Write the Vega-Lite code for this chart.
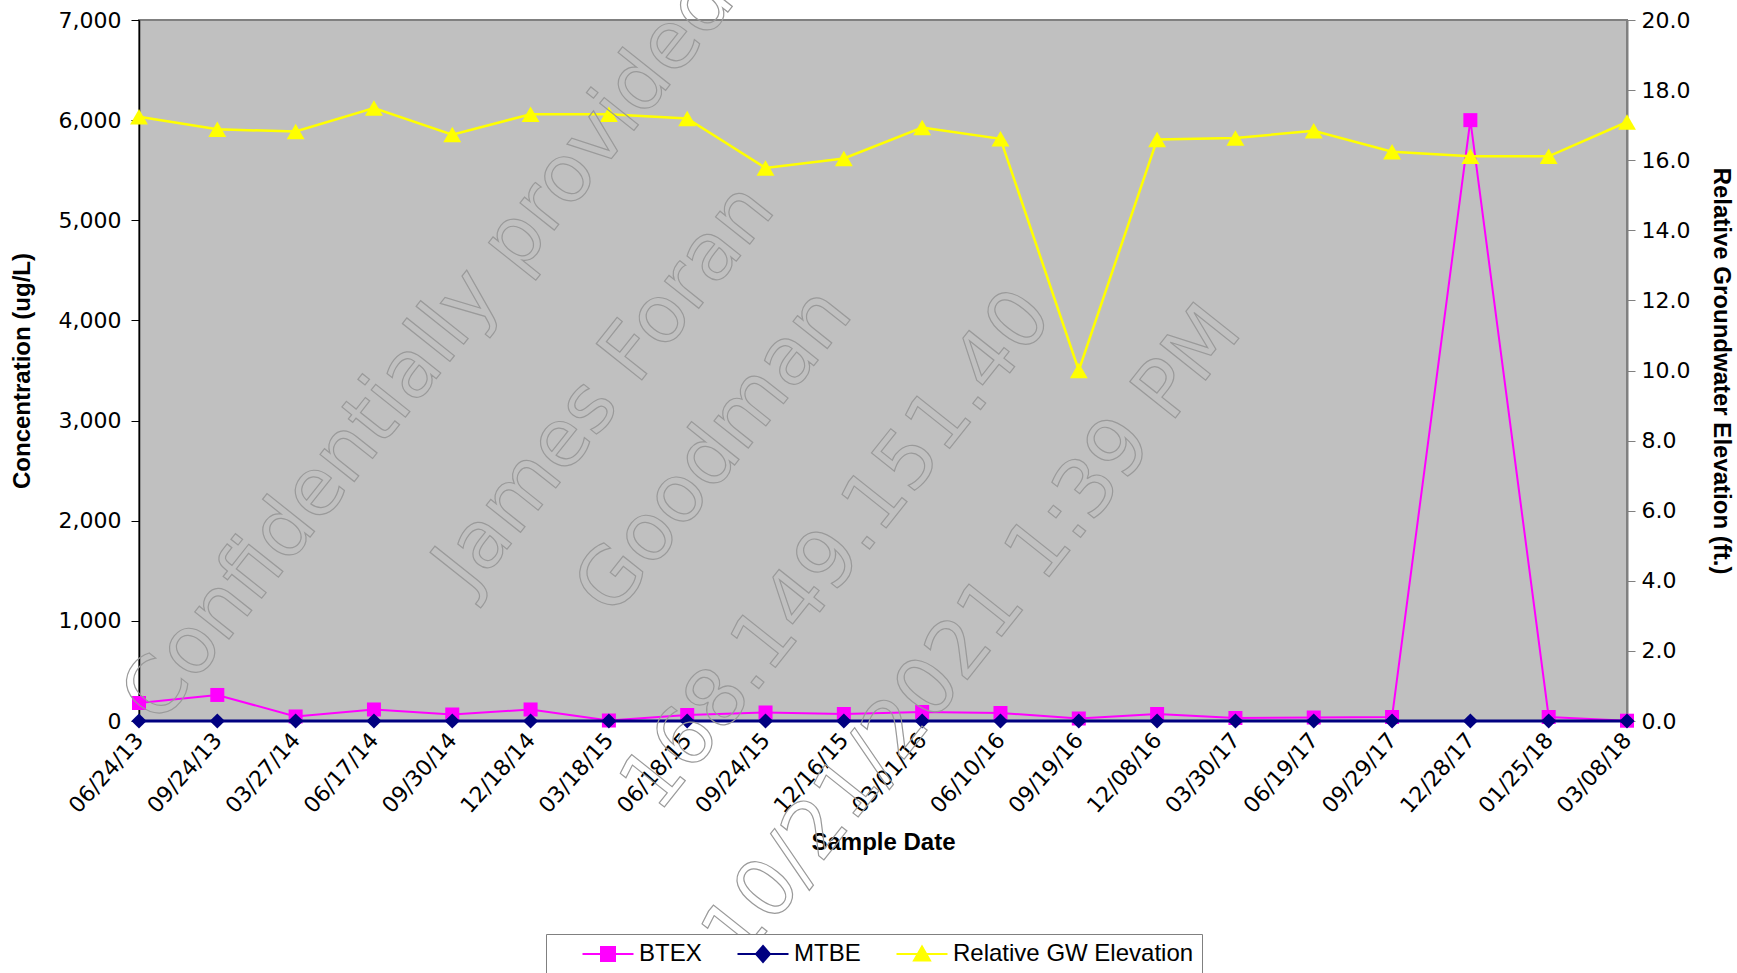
{
  "$schema": "https://vega.github.io/schema/vega-lite/v6.json",
  "autosize": {"type": "none"},
  "width": 1488,
  "height": 701,
  "padding": {"left": 139, "top": 20, "right": 110, "bottom": 252},
  "background": "#ffffff",
  "config": {
    "view": {"fill": "#C0C0C0", "stroke": "#808080", "strokeWidth": 2},
    "axis": {"labelFont": "DejaVu Sans", "labelFontSize": 22, "labelColor": "#000000", "titleFont": "Liberation Sans", "titleFontSize": 24, "titleFontWeight": "bold", "titleColor": "#000000", "grid": false}
  },
  "datasets": {
    "chem": [
      {"date": "06/24/13", "btex": 180, "mtbe": 0, "gw": 17.24},
      {"date": "09/24/13", "btex": 260, "mtbe": 0, "gw": 16.88},
      {"date": "03/27/14", "btex": 45, "mtbe": 0, "gw": 16.82},
      {"date": "06/17/14", "btex": 115, "mtbe": 0, "gw": 17.49},
      {"date": "09/30/14", "btex": 65, "mtbe": 0, "gw": 16.73},
      {"date": "12/18/14", "btex": 115, "mtbe": 0, "gw": 17.31},
      {"date": "03/18/15", "btex": 5, "mtbe": 0, "gw": 17.31},
      {"date": "06/18/15", "btex": 60, "mtbe": 0, "gw": 17.19},
      {"date": "09/24/15", "btex": 85, "mtbe": 0, "gw": 15.78},
      {"date": "12/16/15", "btex": 70, "mtbe": 0, "gw": 16.05},
      {"date": "03/01/16", "btex": 90, "mtbe": 0, "gw": 16.93},
      {"date": "06/10/16", "btex": 80, "mtbe": 0, "gw": 16.61},
      {"date": "09/19/16", "btex": 25, "mtbe": 0, "gw": 10.0},
      {"date": "12/08/16", "btex": 70, "mtbe": 0, "gw": 16.59},
      {"date": "03/30/17", "btex": 30, "mtbe": 0, "gw": 16.63},
      {"date": "06/19/17", "btex": 35, "mtbe": 0, "gw": 16.84},
      {"date": "09/29/17", "btex": 40, "mtbe": 0, "gw": 16.24},
      {"date": "12/28/17", "btex": 6000, "mtbe": 0, "gw": 16.11},
      {"date": "01/25/18", "btex": 40, "mtbe": 0, "gw": 16.11},
      {"date": "03/08/18", "btex": 3, "mtbe": 0, "gw": 17.09}
    ],
    "wm": [
      {"t": "James Foran", "wx": 5.95, "wy": 3330},
      {"t": "Goodman", "wx": 7.35, "wy": 2690},
      {"t": "168.149.151.40", "wx": 8.92, "wy": 1700},
      {"t": "10/21/2021 1:39 PM", "wx": 10.65, "wy": 870}
    ],
    "wm1": [
      {"t": "Confidentially provided to", "wx": 0.02, "wy": 92}
    ]
  },
  "layer": [
    {
      "data": {"name": "chem"},
      "encoding": {
        "x": {
          "field": "date", "type": "ordinal", "sort": null,
          "scale": {"type": "point", "padding": 0, "domain": ["06/24/13","09/24/13","03/27/14","06/17/14","09/30/14","12/18/14","03/18/15","06/18/15","09/24/15","12/16/15","03/01/16","06/10/16","09/19/16","12/08/16","03/30/17","06/19/17","09/29/17","12/28/17","01/25/18","03/08/18"]},
          "axis": {"title": "Sample Date", "labelAngle": -48, "labelAlign": "right", "labelBaseline": "middle", "labelPadding": 15, "ticks": false, "domain": false, "titlePadding": 14}
        }
      },
      "layer": [
        {
          "mark": {"type": "line", "strokeWidth": 2},
          "encoding": {
            "y": {"field": "btex", "type": "quantitative", "title": "Concentration (ug/L)",
              "scale": {"domain": [0, 7000], "nice": false},
              "axis": {"orient": "left", "values": [0,1000,2000,3000,4000,5000,6000,7000], "format": ",.0f", "tickSize": 8, "tickColor": "#000000", "domainColor": "#000000", "domainWidth": 1.5, "labelPadding": 10, "titlePadding": 24}},
            "color": {
              "datum": "BTEX",
              "scale": {"domain": ["BTEX", "MTBE", "Relative GW Elevation"], "range": ["#FF00FF", "#000080", "#FFFF00"]},
              "legend": {
                "orient": "none", "legendX": 407, "legendY": 914, "direction": "horizontal", "title": null,
                "fillColor": "#ffffff", "strokeColor": "#808080", "padding": 8, "symbolOffset": 42,
                "labelFont": "Liberation Sans", "labelFontSize": 24, "labelColor": "#000000", "labelOffset": 19, "labelLimit": 400,
                "columnPadding": 7, "symbolSize": 400, "symbolStrokeWidth": 2,
                "encode": {"symbols": {"update": {
                  "shape": {"signal": "datum.value === 'BTEX' ? 'M-2.55,0H2.55M-0.7,-0.7H0.7V0.7H-0.7Z' : (datum.value === 'MTBE' ? 'M-2.55,0H2.55M0,-0.8L0.7,0L0,0.8L-0.7,0Z' : 'M-2.55,0H2.55M0,-0.75L0.8,0.65L-0.8,0.65Z')"},
                  "fill": {"scale": "color", "field": "value"},
                  "stroke": {"scale": "color", "field": "value"},
                  "opacity": {"value": 1}
                }}}
              }
            }
          }
        },
        {
          "mark": {"type": "point", "shape": "square", "filled": true, "size": 196, "color": "#FF00FF", "opacity": 1},
          "encoding": {"y": {"field": "btex", "type": "quantitative", "title": "Concentration (ug/L)"}}
        },
        {
          "mark": {"type": "line", "strokeWidth": 3},
          "encoding": {
            "y": {"field": "mtbe", "type": "quantitative", "title": "Concentration (ug/L)"},
            "color": {"datum": "MTBE"}
          }
        },
        {
          "mark": {"type": "point", "shape": "diamond", "filled": true, "size": 230, "color": "#000080", "opacity": 1},
          "encoding": {"y": {"field": "mtbe", "type": "quantitative", "title": "Concentration (ug/L)"}}
        }
      ]
    },
    {
      "data": {"name": "chem"},
      "encoding": {
        "x": {
          "field": "date", "type": "ordinal", "sort": null,
          "scale": {"type": "point", "padding": 0, "domain": ["06/24/13","09/24/13","03/27/14","06/17/14","09/30/14","12/18/14","03/18/15","06/18/15","09/24/15","12/16/15","03/01/16","06/10/16","09/19/16","12/08/16","03/30/17","06/19/17","09/29/17","12/28/17","01/25/18","03/08/18"]},
          "axis": null
        },
        "y": {"field": "gw", "type": "quantitative", "title": "Relative Groundwater Elevation (ft.)",
          "scale": {"domain": [0, 20], "nice": false},
          "axis": {"orient": "right", "values": [0,2,4,6,8,10,12,14,16,18,20], "format": ".1f", "tickSize": 8, "tickColor": "#808080", "domainColor": "#808080", "domainWidth": 2, "labelPadding": 6, "titlePadding": 19}}
      },
      "layer": [
        {
          "mark": {"type": "line", "strokeWidth": 2.5},
          "encoding": {"color": {"datum": "Relative GW Elevation"}}
        },
        {
          "mark": {"type": "point", "shape": "triangle-up", "filled": true, "size": 320, "color": "#FFFF00", "opacity": 1}
        }
      ]
    },
    {
      "layer": [
        {
          "data": {"name": "wm"},
          "mark": {"type": "text", "font": "DejaVu Sans", "fontSize": 80, "angle": 308.5, "align": "center", "baseline": "middle", "fill": "transparent", "stroke": "#9a9a9a", "strokeWidth": 1.2},
          "encoding": {
            "x": {"field": "wx", "type": "quantitative", "scale": {"domain": [0, 19], "nice": false, "zero": false}, "axis": null},
            "y": {"field": "wy", "type": "quantitative", "scale": {"domain": [0, 7000], "nice": false, "zero": false}, "axis": null},
            "text": {"field": "t"}
          }
        },
        {
          "data": {"name": "wm1"},
          "mark": {"type": "text", "font": "DejaVu Sans", "fontSize": 80, "angle": 308.5, "align": "left", "baseline": "middle", "fill": "transparent", "stroke": "#9a9a9a", "strokeWidth": 1.2},
          "encoding": {
            "x": {"field": "wx", "type": "quantitative", "axis": null},
            "y": {"field": "wy", "type": "quantitative", "axis": null},
            "text": {"field": "t"}
          }
        }
      ]
    }
  ],
  "resolve": {"scale": {"x": "independent", "y": "independent"}}
}
